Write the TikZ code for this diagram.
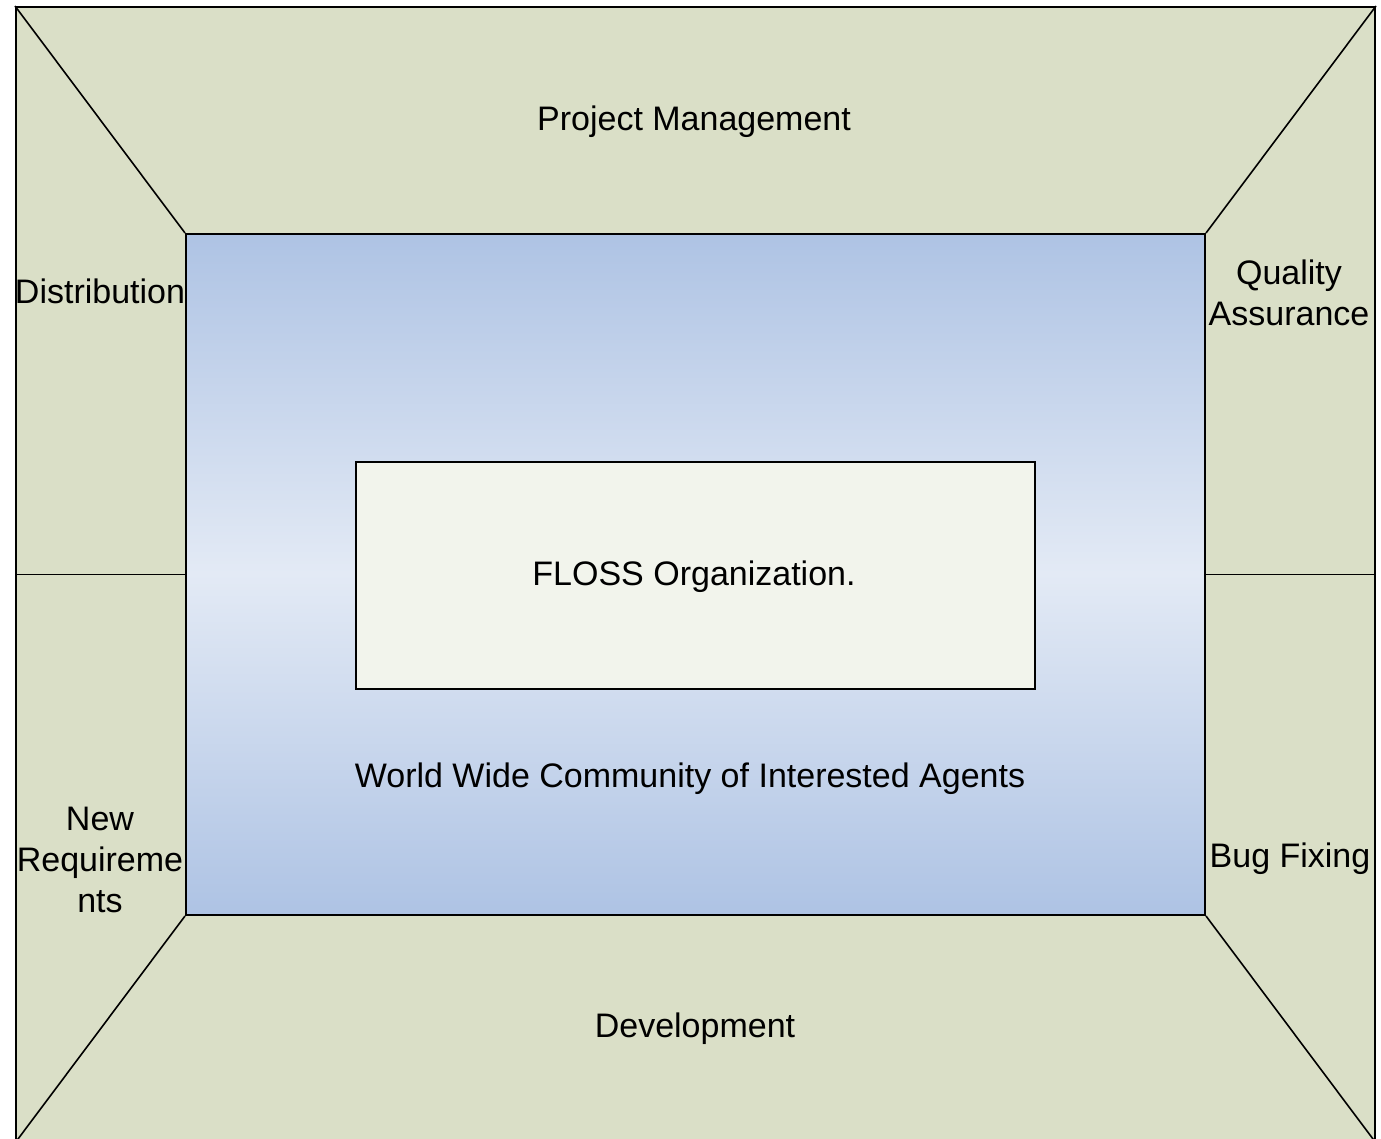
\documentclass[tikz,border=0pt]{standalone}
\usepackage{fontspec}
\setmainfont{Liberation Sans}
\begin{document}
\begin{tikzpicture}[x=1pt,y=-1pt,
  lbl/.style={font=\fontsize{34}{41}\selectfont, align=center, inner sep=0pt},
  edge/.style={draw=black, line width=1.6pt},
]
\useasboundingbox (0,0) rectangle (1381,1138);
\clip (0,0) rectangle (1381,1138);
\fill[white] (0,0) rectangle (1381,1138);
% outer
\node[draw=black, line width=2pt, fill={rgb,255:red,218;green,223;blue,199}, minimum width=1359pt, minimum height=1135pt, inner sep=0pt, anchor=north west] (outer) at (15,6) {};
% inner gradient
\shade[top color={rgb,255:red,174;green,195;blue,228}, bottom color={rgb,255:red,174;green,195;blue,228}, middle color={rgb,255:red,227;green,234;blue,245}] (185,233) rectangle (1204,914);
\node[draw=black, line width=2pt, minimum width=1019pt, minimum height=681pt, inner sep=0pt, anchor=north west] (inner) at (185,233) {};
% diagonals
\draw[edge] (outer.north west) -- (inner.north west);
\draw[edge] (outer.north east) -- (inner.north east);
\draw[edge] (outer.south west) -- (inner.south west);
\draw[edge] (outer.south east) -- (inner.south east);
% horizontal splits
\coordinate (lmid) at (outer.west |- inner.west);
\coordinate (rmid) at (outer.east |- inner.east);
\draw[edge] (lmid) -- (inner.west);
\draw[edge] (inner.east) -- (rmid);
% floss box
\node[draw=black, line width=1.6pt, fill={rgb,255:red,242;green,244;blue,236}, minimum width=679pt, minimum height=227pt, inner sep=0pt, anchor=north west] (floss) at (355,461) {};
% labels
\node[lbl] (pm) at (694,122) {Project Management};
\node[lbl] (dist) at (100,291) {Distribution};
\node[lbl] (qa) at (1289,293) {Quality\\Assurance};
\node[lbl] (nr) at (100,860) {New\\Requireme\\nts};
\node[lbl] (bf) at (1290,859) {Bug Fixing};
\node[lbl] (dev) at (695,1029) {Development};
\node[lbl] (fo) at (694,577) {FLOSS Organization.};
\node[lbl] (ww) at (690,779) {World Wide Community of Interested Agents};
\end{tikzpicture}
\end{document}
